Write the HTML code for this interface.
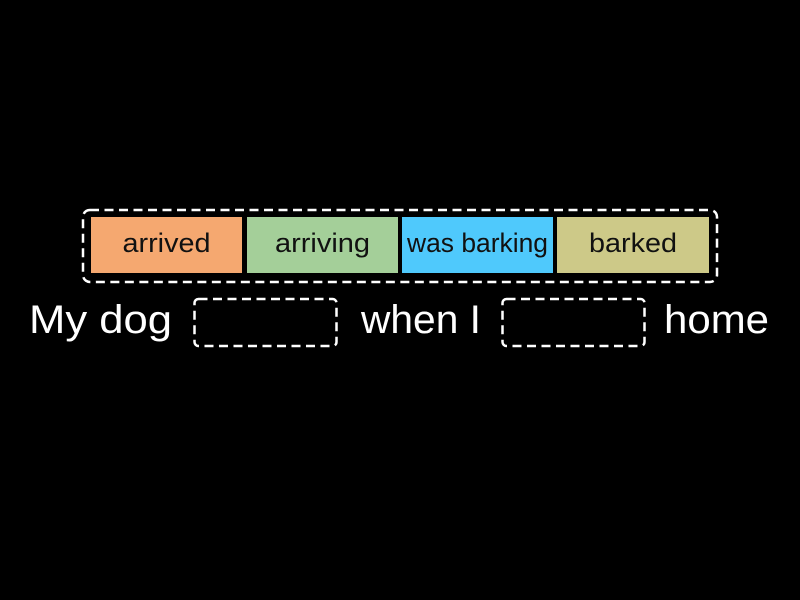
<!DOCTYPE html>
<html>
<head>
<meta charset="utf-8">
<style>
html,body{margin:0;padding:0;background:#000;width:800px;height:600px;overflow:hidden;}
svg{display:block;}
text{font-family:"Liberation Sans","DejaVu Sans",sans-serif;}
</style>
</head>
<body>
<svg width="800" height="600" viewBox="0 0 800 600" xmlns="http://www.w3.org/2000/svg">
  <rect x="0" y="0" width="800" height="600" fill="#000"/>
  <!-- outer dashed container -->
  <rect x="83" y="210" width="634" height="72" rx="7" ry="7" fill="none" stroke="#fff" stroke-width="2.5" stroke-dasharray="9 5.5"/>
  <!-- tiles -->
  <rect x="91" y="217" width="151" height="56" fill="#f5a870"/>
  <rect x="247" y="217" width="151" height="56" fill="#a4cf99"/>
  <rect x="402" y="217" width="151" height="56" fill="#4fc9fc"/>
  <rect x="557" y="217" width="152" height="56" fill="#cdc988"/>
  <g fill="#111" font-size="27">
    <text x="122.5" y="252" textLength="88" lengthAdjust="spacingAndGlyphs">arrived</text>
    <text x="275" y="252" textLength="95" lengthAdjust="spacingAndGlyphs">arriving</text>
    <text x="407" y="252" textLength="141" lengthAdjust="spacingAndGlyphs">was barking</text>
    <text x="589" y="252" textLength="88" lengthAdjust="spacingAndGlyphs">barked</text>
  </g>
  <!-- sentence -->
  <g fill="#fff" font-size="40">
    <text x="29" y="333" textLength="143" lengthAdjust="spacingAndGlyphs">My dog</text>
    <text x="361" y="333" textLength="120" lengthAdjust="spacingAndGlyphs">when I</text>
    <text x="664" y="333" textLength="105" lengthAdjust="spacingAndGlyphs">home</text>
  </g>
  <rect x="194.5" y="299" width="142" height="47" rx="4" ry="4" fill="none" stroke="#fff" stroke-width="2.5" stroke-dasharray="9 5.5"/>
  <rect x="502.5" y="299" width="142" height="47" rx="4" ry="4" fill="none" stroke="#fff" stroke-width="2.5" stroke-dasharray="9 5.5"/>
</svg>
</body>
</html>
